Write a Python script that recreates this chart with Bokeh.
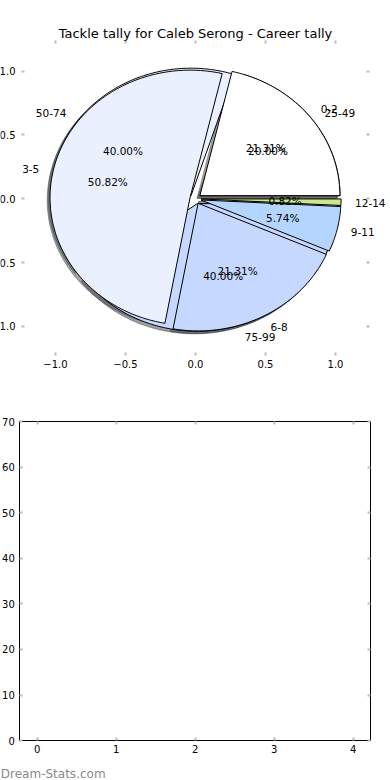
import numpy as np
from bokeh.plotting import figure
from bokeh.models import ColumnDataSource, LabelSet, Label, LinearAxis, FixedTicker
from bokeh.core.properties import value
from bokeh.layouts import column
from bokeh.embed import file_html
from bokeh.resources import INLINE

# ---------------- data ----------------
title_text = "Tackle tally for Caleb Serong - Career tally"

# first pie (drawn on top)
tally_labels = ["0-2", "3-5", "6-8", "9-11", "12-14"]
tally_counts = [26, 62, 26, 7, 1]
tally_colors = ["#ffffff", "#eaf0fd", "#c6d8fd", "#b4d5fe", "#c8e88b"]
tally_explode = [0.04, 0.04, 0.04, 0.04, 0.04]

# second pie (drawn beneath)
pct_labels = ["25-49", "50-74", "75-99"]
pct_counts = [1, 2, 2]
pct_colors = ["#ffffff", "#eaf0fd", "#c6d8fd"]
pct_explode = [0.04, 0.04, 0.04]

pie_ticks = [-1.0, -0.5, 0.0, 0.5, 1.0]
pie_tick_labels = ["\u22121.0", "\u22120.5", "0.0", "0.5", "1.0"]

bar_x_ticks = [0, 1, 2, 3, 4]
bar_x_labels = ["0", "1", "2", "3", "4"]
bar_y_ticks = [0, 10, 20, 30, 40, 50, 60, 70]
bar_y_labels = ["0", "10", "20", "30", "40", "50", "60", "70"]

watermark_text = "Dream-Stats.com"

FONT = "DejaVu Sans"
TICK_COLOR = "#bbbbbb"


# ---------------- helpers ----------------
def pie_geometry(counts, explode, colors, labels):
    counts = np.asarray(counts, dtype=float)
    fr = counts / counts.sum()
    cum = np.concatenate([[0.0], np.cumsum(fr)])
    wedges = dict(xs=[], ys=[], sxs=[], sys=[], color=[], shadow=[])
    lab_left = dict(x=[], y=[], text=[])
    lab_right = dict(x=[], y=[], text=[])
    pct = dict(x=[], y=[], text=[])
    for i in range(len(counts)):
        t1, t2 = 2 * np.pi * cum[i], 2 * np.pi * cum[i + 1]
        tm = 0.5 * (t1 + t2)
        cx, cy = explode[i] * np.cos(tm), explode[i] * np.sin(tm)
        n = max(int(np.degrees(t2 - t1)) + 2, 3)
        arc = np.linspace(t1, t2, n)
        xs = np.concatenate([[cx], cx + np.cos(arc)])
        ys = np.concatenate([[cy], cy + np.sin(arc)])
        wedges["xs"].append(list(xs))
        wedges["ys"].append(list(ys))
        wedges["sxs"].append(list(xs - 0.02))
        wedges["sys"].append(list(ys - 0.02))
        wedges["color"].append(colors[i])
        rgb = np.array([int(colors[i][k:k + 2], 16) for k in (1, 3, 5)]) * 0.3
        wedges["shadow"].append("#%02x%02x%02x" % tuple(int(v) for v in rgb))
        xt, yt = cx + 1.1 * np.cos(tm), cy + 1.1 * np.sin(tm)
        target = lab_left if xt > 0 else lab_right
        target["x"].append(xt)
        target["y"].append(yt)
        target["text"].append(labels[i])
        pct["x"].append(cx + 0.6 * np.cos(tm))
        pct["y"].append(cy + 0.6 * np.sin(tm))
        pct["text"].append("%1.2f%%" % (fr[i] * 100))
    return wedges, lab_left, lab_right, pct


def add_axis(p, loc, ticks, fixed, bounds, labels=None, standoff=5, line_color=None):
    ax = LinearAxis(ticker=FixedTicker(ticks=ticks), fixed_location=fixed, bounds=bounds)
    ax.major_tick_in = 3
    ax.major_tick_out = 0
    ax.major_tick_line_color = TICK_COLOR
    ax.major_tick_line_width = 2
    ax.minor_tick_line_color = None
    ax.axis_line_color = line_color
    ax.axis_line_width = 1
    ax.major_label_standoff = standoff
    if labels is None:
        ax.major_label_text_color = None
    else:
        ax.major_label_overrides = dict(zip(ticks, labels))
        ax.major_label_text_font = FONT
        ax.major_label_text_font_size = "10px"
        ax.major_label_text_color = "black"
    p.add_layout(ax, loc)
    return ax


def bare_figure(width, height, xr, yr):
    p = figure(width=width, height=height, x_range=xr, y_range=yr,
               output_backend="svg", toolbar_location=None,
               x_axis_type=None, y_axis_type=None, min_border=0,
               min_border_left=0, min_border_right=0, min_border_top=0, min_border_bottom=0)
    p.outline_line_color = None
    p.xgrid.visible = False
    p.ygrid.visible = False
    return p


# ---------------- pie figure ----------------
# axes box of the pie panel (data units)
PX0, PX1 = -1.243, 1.243
PY0, PY1 = -1.228, 1.240
p1 = bare_figure(390, 392, (-1.3929, 1.3929), (-1.518, 1.554))

add_axis(p1, "below", pie_ticks, PY0, (PX0, PX1), pie_tick_labels, standoff=5)
add_axis(p1, "above", pie_ticks, PY1, (PX0, PX1))
add_axis(p1, "left", pie_ticks, PX0, (PY0, PY1), pie_tick_labels, standoff=6)
add_axis(p1, "right", pie_ticks, PX1, (PY0, PY1))

wB, lbB_l, lbB_r, pcB = pie_geometry(pct_counts, pct_explode, pct_colors, pct_labels)
wA, lbA_l, lbA_r, pcA = pie_geometry(tally_counts, tally_explode, tally_colors, tally_labels)

srcB = ColumnDataSource(wB)
srcA = ColumnDataSource(wA)
for src in (srcB, srcA):
    p1.patches(xs="sxs", ys="sys", source=src, fill_color="shadow", fill_alpha=0.5,
               line_color="shadow", line_alpha=0.5, line_width=1)
for src in (srcB, srcA):
    p1.patches(xs="xs", ys="ys", source=src, fill_color="color", line_color="black", line_width=1)

for d_l, d_r, d_p in ((lbB_l, lbB_r, pcB), (lbA_l, lbA_r, pcA)):
    for d, align in ((d_l, "left"), (d_r, "right"), (d_p, "center")):
        p1.add_layout(LabelSet(x="x", y="y", text="text", source=ColumnDataSource(d),
                               text_align=align, text_baseline="middle",
                               text_font=value(FONT), text_font_size=value("10.5px"),
                               text_color="black"))

p1.add_layout(Label(x=0, y=PY1, y_offset=7, text=title_text, text_align="center",
                    text_baseline="alphabetic", text_font=FONT, text_font_size="13px",
                    text_color="black"))

# ---------------- empty bar figure ----------------
BX0, BX1 = -0.22, 4.22
BY0, BY1 = 0, 70
p2 = bare_figure(390, 388, (-0.4646, 4.472), (-8.79, 76.48))

add_axis(p2, "below", bar_x_ticks, BY0, (BX0, BX1), bar_x_labels, standoff=4, line_color="black")
add_axis(p2, "above", bar_x_ticks, BY1, (BX0, BX1), line_color="black")
add_axis(p2, "left", bar_y_ticks, BX0, (BY0, BY1), bar_y_labels, standoff=5, line_color="black")
add_axis(p2, "right", bar_y_ticks, BX1, (BY0, BY1), line_color="black")

p2.add_layout(Label(x=BX0, y=BY0, x_offset=-19, y_offset=-33, text=watermark_text,
                    text_align="left", text_baseline="alphabetic", text_font=FONT,
                    text_font_size="12px", text_color="#8a8a8a"))

layout = column(p1, p2, spacing=0)
open("out.html", "w").write(file_html(layout, INLINE))
